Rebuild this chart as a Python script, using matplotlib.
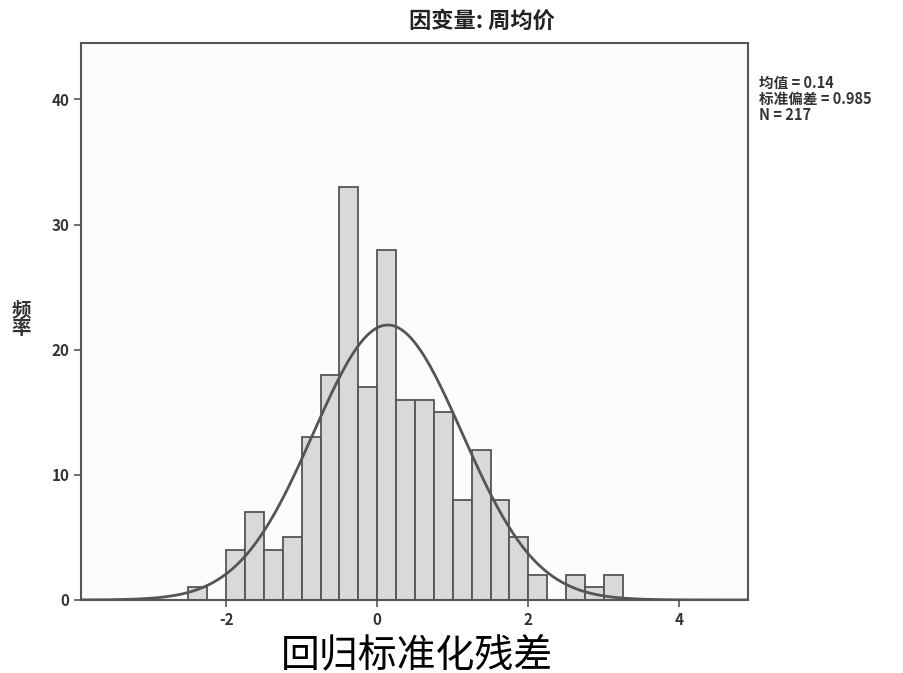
import numpy as np
import matplotlib.pyplot as plt

plt.rcParams['font.family'] = ['Noto Sans CJK SC', 'DejaVu Sans']
plt.rcParams['axes.unicode_minus'] = False

# histogram of standardized residuals, bin width 0.25
bin_start = -2.5
bin_width = 0.25
counts = [1, 0, 4, 7, 4, 5, 13, 18, 33, 17, 28, 16, 16, 15, 8, 12, 8, 5, 2, 0, 2, 1, 2]
mean_val = 0.14
std_val = 0.985
n_total = 217

title = '因变量: 周均价'
xlabel = '回归标准化残差'
ylabel = '频\n率'
stats_lines = ['均值 = 0.14', '标准偏差 = 0.985', 'N = 217']


def main():
    edges = bin_start + bin_width * np.arange(len(counts) + 1)

    fig = plt.figure(figsize=(9.04, 6.73), dpi=100)
    ax = fig.add_axes([0.0896, 0.1085, 0.738, 0.8275])

    ax.bar(edges[:-1], counts, width=bin_width, align='edge',
           color='#d9d9d9', edgecolor='#555555', linewidth=1.3)

    # fitted normal curve
    x = np.linspace(-3.92, 4.91, 400)
    y = n_total * bin_width / (std_val * np.sqrt(2 * np.pi)) * \
        np.exp(-0.5 * ((x - mean_val) / std_val) ** 2)
    ax.plot(x, y, color='#555555', linewidth=2)

    ax.set_xlim(-3.92, 4.91)
    ax.set_ylim(0, 44.5)
    ax.set_xticks([-2, 0, 2, 4])
    ax.set_yticks([0, 10, 20, 30, 40])
    ax.tick_params(direction='out', length=5, width=1.2, color='#555555',
                   labelsize=11, labelcolor='#333333')
    for lab in ax.get_xticklabels() + ax.get_yticklabels():
        lab.set_fontweight('bold')
    for s in ax.spines.values():
        s.set_color('#555555')
        s.set_linewidth(1.5)
    ax.set_facecolor('#fcfcfc')

    fig.text(0.533, 0.968, title, fontsize=16, fontweight='bold',
             ha='center', va='center', color='#222222')
    fig.text(0.023, 0.525, ylabel, fontsize=14, fontweight='bold',
             ha='center', va='center', linespacing=0.95, color='#333333')
    fig.text(0.461, 0.027, xlabel, fontsize=28, fontweight='light',
             ha='center', va='center', color='black')
    fig.text(0.84, 0.888, '\n'.join(stats_lines), fontsize=10.5,
             fontweight='bold', ha='left', va='top', linespacing=1.0,
             color='#333333')

    fig.savefig('out.png', dpi=100)


if __name__ == '__main__':
    main()
